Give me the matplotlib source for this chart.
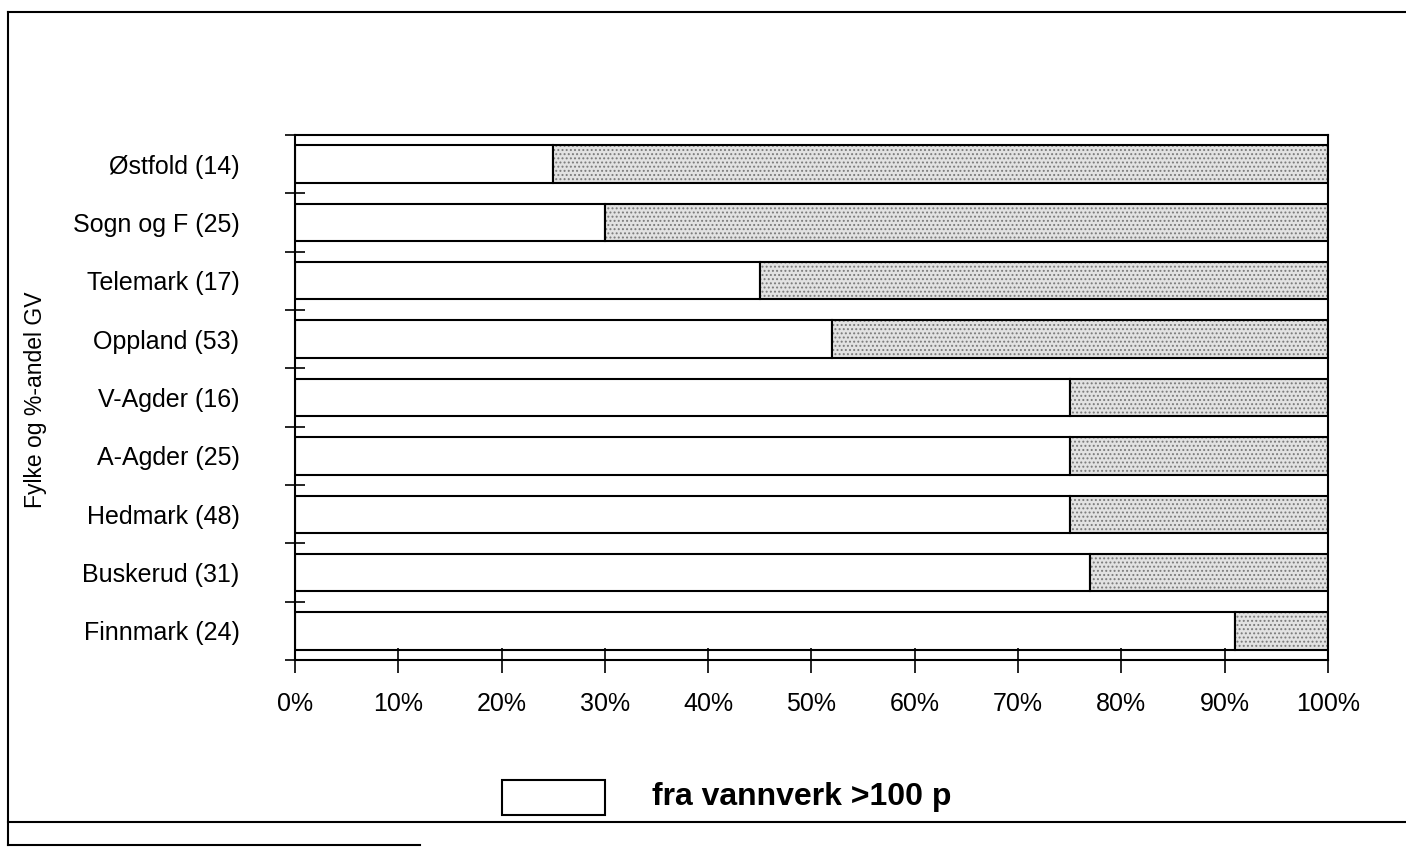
import matplotlib
matplotlib.use('Agg')
import matplotlib.pyplot as plt
from matplotlib.lines import Line2D
from matplotlib.patches import Rectangle

# data (share in %)
fylker = ['Østfold (14)', 'Sogn og F (25)', 'Telemark (17)', 'Oppland (53)',
          'V-Agder (16)', 'A-Agder (25)', 'Hedmark (48)', 'Buskerud (31)',
          'Finnmark (24)']
vannverk = [25, 30, 45, 52, 75, 75, 75, 77, 91]
rest = [100 - v for v in vannverk]
x_ticks = [0, 10, 20, 30, 40, 50, 60, 70, 80, 90, 100]

plt.rcParams['font.family'] = ['Liberation Sans', 'DejaVu Sans']
plt.rcParams['hatch.linewidth'] = 0.9

fig = plt.figure(figsize=(14.06, 8.5), dpi=100)
ax = fig.add_axes([0.2098, 0.2235, 0.7347, 0.6177])

y = list(range(len(fylker)))
h = 0.64

ax.barh(y, vannverk, height=h, color='white', edgecolor='black', linewidth=1.5)
# stippled part: hatch first, outline drawn on top
ax.barh(y, rest, left=vannverk, height=h, color='#e2e2e2', hatch='....',
        edgecolor='#7a7a7a', linewidth=0)
ax.barh(y, rest, left=vannverk, height=h, fill=False, edgecolor='black', linewidth=1.5)

ax.set_xlim(0, 100)
ax.set_ylim(len(fylker) - 0.5, -0.5)

ax.set_xticks(x_ticks)
ax.set_xticklabels([f'{t}%' for t in x_ticks], fontsize=18)
ax.tick_params(axis='x', direction='inout', length=18, width=1.2, pad=14)

ax.set_yticks(y)
ax.set_yticklabels(fylker, fontsize=18)
ax.tick_params(axis='y', which='major', length=0, pad=40)
ax.set_yticks([i - 0.5 for i in range(len(fylker) + 1)], minor=True)
ax.tick_params(axis='y', which='minor', direction='inout', length=14, width=1.2)

for s in ax.spines.values():
    s.set_linewidth(1.5)

fig.text(0.025, 0.53, 'Fylke og %-andel GV', rotation=90, fontsize=16.5,
         ha='center', va='center')

# legend
fig.add_artist(Rectangle((0.357, 0.041), 0.073, 0.041, transform=fig.transFigure,
                         facecolor='white', edgecolor='black', linewidth=1.5))
fig.text(0.464, 0.062, 'fra vannverk >100 p', fontsize=23, fontweight='bold',
         ha='left', va='center')

# frame around the figure
fig.add_artist(Line2D([0.0057, 1.0], [0.986, 0.986], color='black', linewidth=1.5))
fig.add_artist(Line2D([0.0057, 0.0057], [0.986, 0.006], color='black', linewidth=1.5))
fig.add_artist(Line2D([0.0057, 1.0], [0.033, 0.033], color='black', linewidth=1.5))
fig.add_artist(Line2D([0.0057, 0.299], [0.006, 0.006], color='black', linewidth=1.5))

fig.savefig('out.png', dpi=100)
